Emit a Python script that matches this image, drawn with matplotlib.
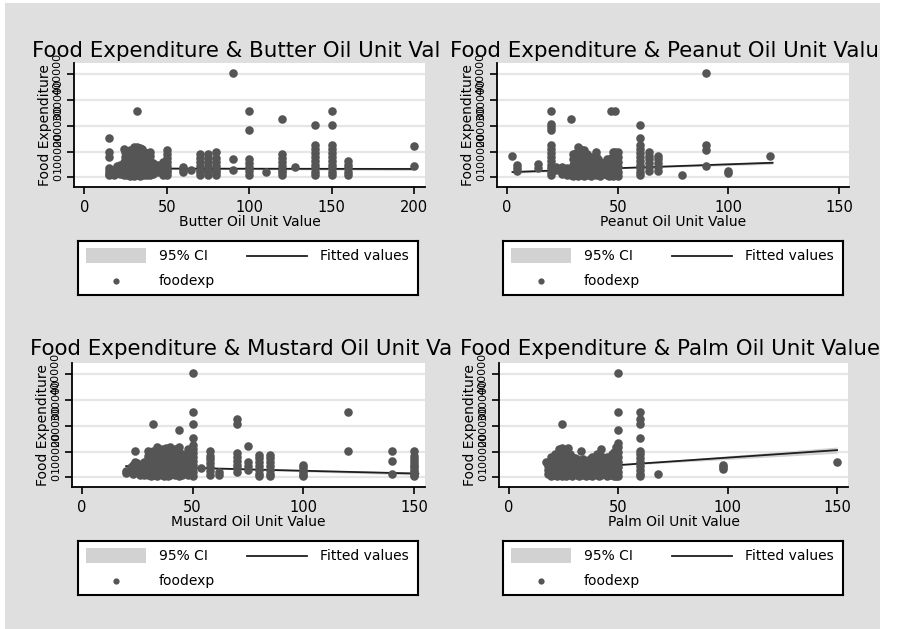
import numpy as np
import matplotlib
matplotlib.use('Agg')
import matplotlib.pyplot as plt
from matplotlib.patches import Rectangle

# food expenditure (thousands) per unit value
butter_pts = [
    (15, [153, 98, 81, 35, 25, 12, 8]), (18, [10, 20]), (20, [40, 45]),
    (22, [50, 30, 15]), (24, [110, 60, 45, 25, 10]), (25, [100, 80, 55, 35, 15]),
    (26, [90, 70, 50, 30, 8]), (28, [105, 85, 60, 40, 20, 5]),
    (30, [120, 95, 75, 55, 35, 15, 5]), (31, [110, 85, 65, 45, 25, 10]),
    (32, [256, 120, 100, 80, 60, 40, 20, 8]), (33, [90, 70, 50, 30, 12]),
    (34, [115, 95, 75, 55, 35, 15, 5]), (35, [110, 60, 40, 20]),
    (36, [100, 80, 50, 25, 10]), (38, [95, 70, 45, 20, 8]),
    (40, [100, 85, 65, 45, 25, 10]), (42, [55, 30, 15]), (45, [50, 35, 20]),
    (48, [60, 40, 20, 10]), (50, [105, 90, 75, 60, 45, 30, 20, 8]),
    (60, [40, 30, 20]), (65, [30]), (70, [90, 75, 60, 45, 30, 20, 11]),
    (75, [90, 75, 60, 45, 30, 20, 11]), (80, [100, 75, 60, 45, 30, 20, 8]),
    (90, [405, 70, 30]), (100, [256, 185, 70, 55, 40, 25, 8]), (110, [20]),
    (120, [226, 90, 75, 60, 45, 30, 20, 8]), (128, [40]),
    (140, [203, 125, 110, 95, 80, 65, 50, 35, 20, 8]),
    (150, [256, 203, 125, 110, 95, 80, 65, 50, 35, 20, 8]),
    (160, [65, 50, 35, 20, 8]), (200, [121, 44]),
]
peanut_pts = [
    (2.5, [83]), (4.5, [47, 38, 27]), (14, [53, 36]),
    (20, [256, 208, 195, 183, 125, 110, 95, 80, 65, 50, 35, 20, 8]),
    (22, [40, 30]), (25, [40, 28, 15]), (27, [35, 20, 8]), (29, [226, 20, 8]),
    (30, [90, 70, 50, 30, 15, 5]), (31, [95, 75, 55, 35, 15]),
    (32, [120, 100, 80, 60, 40, 20, 5]), (33, [110, 85, 65, 45, 25, 8]),
    (34, [95, 75, 55, 35, 15]), (35, [105, 85, 65, 45, 25, 5]),
    (36, [90, 70, 50, 30, 10]), (37, [60, 40, 20]), (38, [80, 60, 40, 20, 5]),
    (40, [100, 85, 65, 45, 25, 8]), (41, [70, 50, 30]), (42, [60, 40, 20, 5]),
    (44, [55, 35, 15]), (45, [70, 50, 30, 10]), (46, [60, 40, 20, 5]),
    (47, [256, 75, 55, 35, 15]), (48, [100, 80, 60, 40, 20, 5]),
    (49, [256, 100, 60]), (50, [100, 80, 60, 40, 20, 5]),
    (60, [203, 154, 125, 110, 95, 80, 65, 50, 35, 20, 8]),
    (64, [100, 85, 70, 55, 40, 25]), (68, [85, 70, 55, 40, 25]), (79, [10]),
    (90, [405, 124, 105, 44]), (100, [27, 17]), (119, [83]),
]
mustard_pts = [
    (20, [25, 18]), (22, [40, 30]), (23, [50, 35, 15]), (24, [102, 60, 40, 20]),
    (25, [55, 30]), (26, [45, 25, 10]), (28, [60, 40, 20, 8]),
    (30, [102, 85, 70, 55, 40, 25, 10]), (31, [95, 75, 55, 35, 15, 5]),
    (32, [206, 102, 85, 65, 45, 25, 8]), (33, [90, 70, 50, 30, 12]),
    (34, [120, 100, 80, 60, 40, 20, 5]), (35, [95, 75, 55, 35, 15]),
    (36, [110, 90, 70, 50, 30, 10]), (37, [102, 80, 60, 40, 20, 5]),
    (38, [115, 95, 75, 55, 35, 15]), (39, [100, 80, 60, 40, 20, 5]),
    (40, [120, 100, 80, 60, 40, 20, 8]), (41, [95, 75, 55, 35, 15]),
    (42, [110, 90, 70, 50, 30, 10]), (44, [186, 120, 100, 80, 60, 40, 20, 5]),
    (45, [90, 70, 50, 30, 10]), (48, [110, 85, 60, 35, 10]),
    (50, [405, 255, 206, 154, 125, 110, 95, 80, 65, 50, 35, 20, 5]),
    (54, [35]), (58, [102, 85, 70, 55, 40, 25, 10]), (62, [20, 8]),
    (70, [228, 206, 95, 80, 65, 50, 35, 20]), (75, [122, 60, 45, 30]),
    (80, [89, 75, 60, 45, 30, 15, 5]), (85, [89, 75, 60, 45, 30, 15, 5]),
    (100, [50, 40, 30, 20, 10, 5]), (120, [255, 102]), (140, [102, 63, 15]),
    (150, [102, 83, 70, 60, 50, 40, 30, 20, 10, 5]),
]
palm_pts = [
    (17, [59]), (18, [45, 30, 15]), (19, [80, 60, 40, 20, 5]), (20, [75, 55, 35, 15]),
    (21, [90, 70, 50, 30, 10]), (22, [65, 45, 25, 5]), (23, [110, 90, 70, 50, 30, 10]),
    (24, [206, 115, 95, 75, 55, 35, 15, 5]), (25, [100, 80, 60, 40, 20]),
    (26, [85, 65, 45, 25, 5]), (27, [115, 95, 75, 55, 35, 15]),
    (28, [90, 70, 50, 30, 10]), (29, [80, 60, 40, 20, 5]), (30, [75, 55, 35, 15]),
    (31, [70, 50, 30, 10]), (32, [65, 45, 25, 5]), (33, [102, 60, 40, 20]),
    (34, [70, 50, 30, 10]), (35, [65, 45, 25, 5]), (36, [60, 40, 20]),
    (37, [70, 50, 30, 10]), (38, [80, 60, 40, 20, 5]), (39, [65, 45, 25]),
    (40, [90, 70, 50, 30, 10]), (41, [60, 40, 20, 5]), (42, [110, 85, 65, 45, 25, 8]),
    (43, [55, 35, 15]), (44, [75, 55, 35, 15]), (45, [80, 60, 40, 20, 5]),
    (46, [70, 50, 30, 10]), (47, [90, 70, 50, 30, 10]), (48, [100, 80, 60, 40, 20, 5]),
    (49, [120, 100, 80, 60, 40, 20, 5]),
    (50, [405, 255, 186, 135, 120, 100, 80, 60, 40, 20, 5]),
    (60, [255, 225, 206, 154, 102, 90, 75, 60, 45, 30, 15, 5]),
    (68, [12]), (98, [48, 40, 31]), (150, [59]),
]

# fitted line and half width of the 95% CI (thousands)
butter_fit_x = [15, 90, 200]
butter_fit_y = [35, 34, 33]
butter_ci = [5, 3, 6]
peanut_fit_x = [2.5, 50, 120]
peanut_fit_y = [21, 36, 57]
peanut_ci = [5, 2, 6]
mustard_fit_x = [20, 50, 100, 152]
mustard_fit_y = [44, 37, 26, 15]
mustard_ci = [4, 2, 4, 6]
palm_fit_x = [17, 50, 100, 150]
palm_fit_y = [29, 48, 77, 106]
palm_ci = [3, 2, 7, 12]

titles = ['Food Expenditure & Butter Oil Unit Val',
          'Food Expenditure & Peanut Oil Unit Value',
          'Food Expenditure & Mustard Oil Unit Va',
          'Food Expenditure & Palm Oil Unit Value']
xlabels = ['Butter Oil Unit Value', 'Peanut Oil Unit Value',
           'Mustard Oil Unit Value', 'Palm Oil Unit Value']
xticks_all = [[0, 50, 100, 150, 200], [0, 50, 100, 150],
              [0, 50, 100, 150], [0, 50, 100, 150]]
yticks = [0, 100000, 200000, 300000, 400000]

W, H = 897, 629
bg_col = '#dfdfdf'
dot_col = '#555555'
line_col = '#1e1e1e'
ci_col = '#d2d2d2'


def px_box(x0, y0, x1, y1):
    return [x0 / W, 1 - y1 / H, (x1 - x0) / W, (y1 - y0) / H]


def flatten(stripes):
    xs, ys = [], []
    for x, vals in stripes:
        xs += [x] * len(vals)
        ys += [v * 1000 for v in vals]
    return np.array(xs), np.array(ys)


fig = plt.figure(figsize=(W / 100, H / 100), dpi=100)
fig.patch.set_facecolor('white')
bg = Rectangle((5 / W, 0), 875 / W, 1 - 3 / H, transform=fig.transFigure,
               facecolor=bg_col, edgecolor='none', zorder=-10)
fig.add_artist(bg)

# pixel layout of each panel: axes box, xlim, title x/baseline, legend corner
layout = [
    ((74, 63, 425, 187), (-6.2, 206.7), (32, 57), (78, 241)),
    ((497, 63, 849, 187), (-4.5, 154.5), (450, 57), (503, 241)),
    ((72, 363, 425, 487), (-4.5, 155.0), (30, 355), (78, 541)),
    ((499, 363, 848, 487), (-4.6, 155.0), (460, 355), (503, 541)),
]
pts_all = [butter_pts, peanut_pts, mustard_pts, palm_pts]
fits = [(butter_fit_x, butter_fit_y, butter_ci), (peanut_fit_x, peanut_fit_y, peanut_ci),
        (mustard_fit_x, mustard_fit_y, mustard_ci), (palm_fit_x, palm_fit_y, palm_ci)]

for i in range(4):
    rect, xlim, tpos, lpos = layout[i]
    aw = rect[2] - rect[0]
    ah = rect[3] - rect[1]
    ax = fig.add_axes(px_box(*rect))
    ax.set_facecolor('white')
    ax.set_xlim(xlim)
    ax.set_ylim(-37000, 444000)
    ax.spines['top'].set_visible(False)
    ax.spines['right'].set_visible(False)
    ax.spines['left'].set_linewidth(1.3)
    ax.spines['bottom'].set_linewidth(1.3)
    ax.grid(axis='y', color='#e6e6e6', lw=1.6)
    ax.set_axisbelow(True)

    fx_, fy_, fc = fits[i]
    fx_ = np.array(fx_, float)
    fy_ = np.array(fy_) * 1000
    fc = np.array(fc) * 1000
    ax.fill_between(fx_, fy_ - fc, fy_ + fc, color=ci_col, lw=0)
    ax.plot(fx_, fy_, color=line_col, lw=1.3)
    x, y = flatten(pts_all[i])
    ax.scatter(x, y, s=38, color=dot_col, lw=0, zorder=3)

    ax.set_yticks(yticks)
    ax.set_yticklabels([str(v) for v in yticks], rotation=90, va='center', fontsize=8)
    ax.tick_params(axis='y', length=5, width=1.2, pad=3)
    ax.set_xticks(xticks_all[i])
    ax.tick_params(axis='x', length=5, width=1.2, pad=4, labelsize=10.5)
    ax.set_ylabel('Food Expenditure', fontsize=10)
    ax.yaxis.label.set_va('center')
    ax.yaxis.set_label_coords(-29 / aw, 0.5)
    ax.set_xlabel(xlabels[i], fontsize=10)
    ax.xaxis.label.set_va('center')
    ax.xaxis.set_label_coords(0.5, -35 / ah)

    t = fig.text(tpos[0] / W, 1 - tpos[1] / H, titles[i], fontsize=15.4,
                 va='baseline', ha='left')
    t.set_clip_path(bg)

    # legend box
    lx, ly = lpos
    lg = fig.add_axes(px_box(lx, ly, lx + 340, ly + 54))
    lg.set_xlim(0, 340)
    lg.set_ylim(54, 0)
    lg.set_xticks([])
    lg.set_yticks([])
    for s in lg.spines.values():
        s.set_linewidth(1.5)
        s.set_color('black')
    lg.add_patch(Rectangle((8, 7), 60, 15, facecolor=ci_col, edgecolor='none'))
    lg.text(81, 15, '95% CI', va='center', fontsize=10)
    lg.plot([169, 229], [15, 15], color=line_col, lw=1.3)
    lg.text(242, 15, 'Fitted values', va='center', fontsize=10)
    lg.plot([38], [40], 'o', ms=4.5, color=dot_col, mec='none')
    lg.text(81, 40, 'foodexp', va='center', fontsize=10)

fig.savefig('out.png', dpi=100, facecolor='white')
